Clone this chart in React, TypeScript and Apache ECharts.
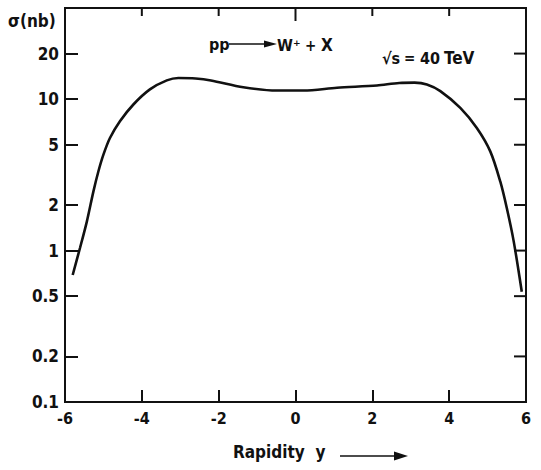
import React, { useEffect, useRef } from "react";
import * as echarts from "echarts";

// W+ production cross section vs. rapidity, pp at sqrt(s) = 40 TeV
const rapidity = [
  -5.8, -5.61, -5.43, -5.26, -5.13, -5.0, -4.83, -4.57, -4.22, -3.79, -3.35, -3.05,
  -2.6, -2.2, -1.36, -0.49, 0.21, 1.08, 2.12, 2.7, 3.1, 3.42, 3.77, 4.29, 4.72,
  5.07, 5.33, 5.5, 5.68, 5.89,
];
const sigmaNb = [
  0.69, 1.04, 1.56, 2.46, 3.34, 4.3, 5.54, 7.15, 9.22, 11.6, 13.3, 13.8,
  13.7, 13.3, 12.0, 11.4, 11.4, 11.9, 12.3, 12.8, 12.85, 12.5, 11.3, 8.76, 6.45,
  4.52, 2.86, 1.91, 1.15, 0.535,
];
const yTickValues = [0.1, 0.2, 0.5, 1, 2, 5, 10, 20];
const xTickValues = [-6, -4, -2, 0, 2, 4, 6];
const X_MIN = -6;
const X_MAX = 6;
const Y_MIN = 0.1;
const Y_MAX = 40;

const WIDTH = 541;
const HEIGHT = 470;
const GRID = { left: 65, right: 15, top: 8, bottom: 68 };

const FONT = "'DejaVu Sans Condensed', 'Liberation Sans Narrow', 'DejaVu Sans', sans-serif";
const INK = "#111";

const fmtY = (v: number) => String(parseFloat(Number(v).toPrecision(3)));

const label = (text: string, x: number, y: number, size = 16) => ({
  type: "text",
  x,
  y,
  style: { text, font: `bold ${size}px ${FONT}`, fill: INK, textVerticalAlign: "middle" },
});

// tick lengths are given in pixels and turned into axis units
const unitPx = (WIDTH - GRID.left - GRID.right) / (X_MAX - X_MIN);
const decadePx = (HEIGHT - GRID.top - GRID.bottom) / Math.log10(Y_MAX / Y_MIN);
const dx = (px: number) => px / unitPx;
const fy = (px: number) => Math.pow(10, px / decadePx);

// inward ticks on the right and top edges of the frame (no axis lives there)
function oppositeTicks(): number[][][] {
  const segs: number[][][] = [];
  yTickValues
    .filter((v) => v > Y_MIN)
    .forEach((v) => segs.push([[X_MAX - dx(12), v], [X_MAX, v]]));
  xTickValues
    .filter((v) => v > X_MIN && v < X_MAX)
    .forEach((v) => segs.push([[v, Y_MAX], [v, Y_MAX / fy(v === 0 ? 13 : 8)]]));
  return segs;
}

export default function App() {
  const ref = useRef<HTMLDivElement>(null);

  useEffect(() => {
    if (!ref.current) return;
    const chart = echarts.init(ref.current, undefined, { renderer: "svg" });

    const tickSeries = oppositeTicks().map((seg) => ({
      type: "line",
      data: seg,
      showSymbol: false,
      silent: true,
      clip: false,
      z: 5,
      lineStyle: { color: INK, width: 2 },
    }));

    chart.setOption({
      animation: false,
      grid: { ...GRID, show: true, borderColor: INK, borderWidth: 2, backgroundColor: "transparent" },
      xAxis: {
        type: "value",
        min: X_MIN,
        max: X_MAX,
        interval: 2,
        axisLine: { show: true, onZero: false, lineStyle: { color: INK, width: 2 } },
        axisTick: {
          show: true,
          inside: true,
          length: 12,
          customValues: xTickValues,
          lineStyle: { color: INK, width: 2 },
        },
        axisLabel: {
          customValues: xTickValues,
          color: INK,
          fontSize: 16,
          fontFamily: FONT,
          fontWeight: "bold",
          margin: 8,
        },
        splitLine: { show: false },
      },
      yAxis: {
        type: "log",
        logBase: 10,
        min: Y_MIN,
        max: Y_MAX,
        axisLine: { show: true, onZero: false, lineStyle: { color: INK, width: 2 } },
        axisTick: {
          show: true,
          inside: true,
          length: 13,
          customValues: yTickValues,
          lineStyle: { color: INK, width: 2 },
        },
        axisLabel: {
          customValues: yTickValues,
          formatter: fmtY,
          color: INK,
          fontSize: 17,
          fontFamily: FONT,
          fontWeight: "bold",
          margin: 6,
        },
        splitLine: { show: false },
        minorTick: { show: false },
      },
      series: [
        ...tickSeries,
        {
          type: "line",
          data: rapidity.map((x, i) => [x, sigmaNb[i]]),
          smooth: 0.3,
          showSymbol: false,
          z: 4,
          lineStyle: { color: INK, width: 2.6 },
        },
      ],
      graphic: [
        label("σ(nb)", 8, 21, 17),
        label("pp", 209, 44),
        { type: "line", shape: { x1: 229, y1: 44, x2: 267, y2: 44 }, style: { stroke: INK, lineWidth: 1.5 } },
        { type: "polygon", shape: { points: [[264, 40.5], [277, 44], [264, 47.5]] }, style: { fill: INK } },
        label("W⁺", 277, 45),
        label("+", 305, 46, 15),
        label("X", 321, 45, 17),
        label("√s", 382, 58),
        label("=", 404, 58, 15),
        label("40", 420, 58),
        label("TeV", 444, 58, 17),
        label("Rapidity  y", 233, 452, 17),
        { type: "line", shape: { x1: 340, y1: 456, x2: 398, y2: 456 }, style: { stroke: INK, lineWidth: 1.5 } },
        { type: "polygon", shape: { points: [[394, 451.5], [408, 456], [394, 460.5]] }, style: { fill: INK } },
      ],
    });

    return () => chart.dispose();
  }, []);

  return (
    <div
      ref={ref}
      style={{ position: "fixed", left: 0, top: 0, width: WIDTH, height: HEIGHT, background: "#fff" }}
    />
  );
}
